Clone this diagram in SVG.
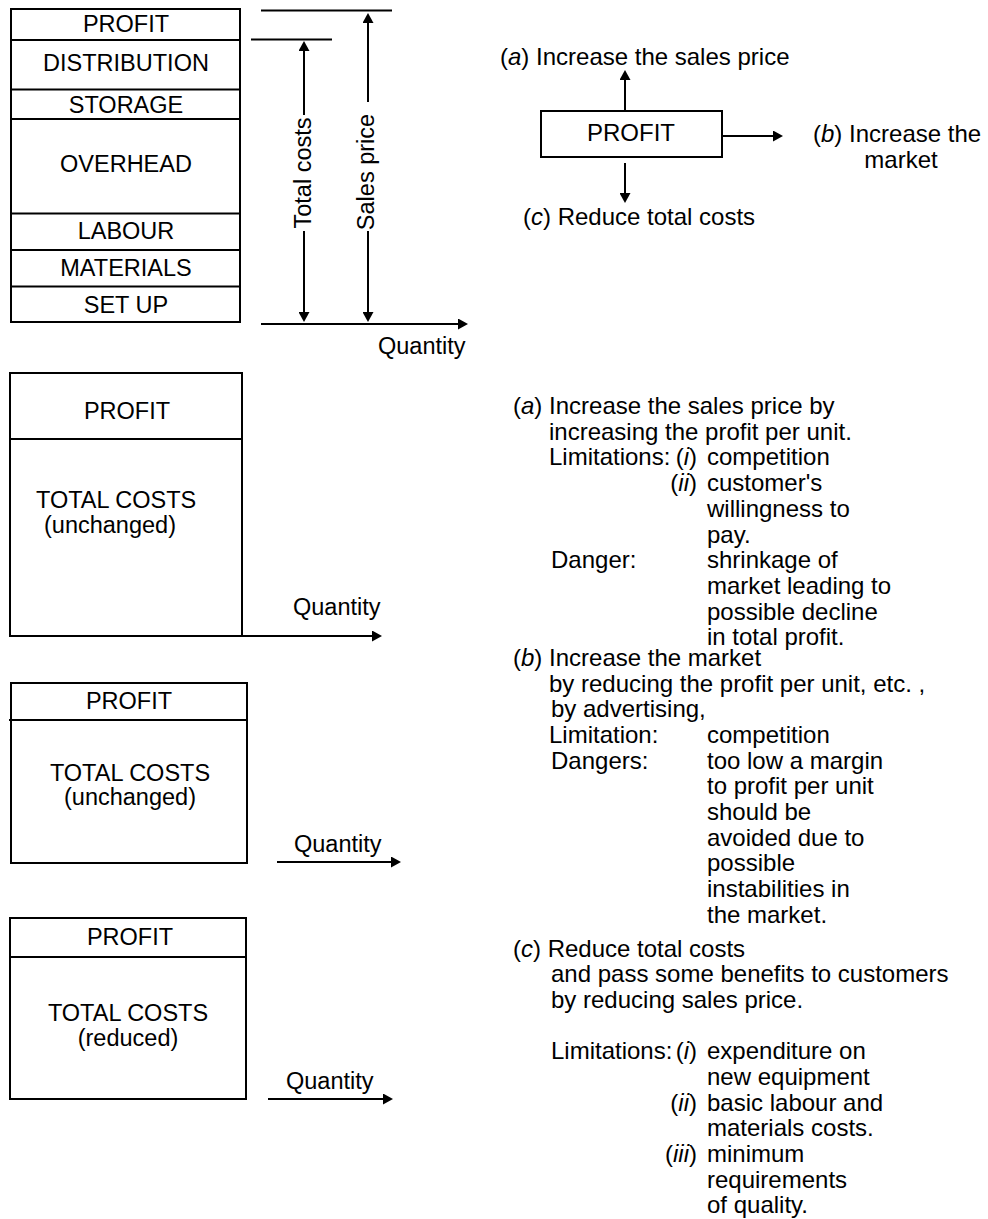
<svg xmlns="http://www.w3.org/2000/svg" width="988" height="1219" viewBox="0 0 988 1219">
<style>
text{font-family:"Liberation Sans",Arial,Helvetica,sans-serif;font-size:24px;fill:#000}
.s{font-size:23.5px}
.m{text-anchor:middle}
.e{text-anchor:end}
.i{font-style:italic}
.box{fill:none;stroke:#000;stroke-width:2}
.ln{fill:none;stroke:#000;stroke-width:2}
</style>
<defs>
<marker id="ah" viewBox="0 0 10 11" refX="7" refY="5.5" markerWidth="10" markerHeight="11" markerUnits="userSpaceOnUse" orient="auto-start-reverse">
<path d="M0,0 L10,5.5 L0,11 z" fill="#000"/>
</marker>
</defs>
<rect width="988" height="1219" fill="#fff"/>

<g id="cost-stack">
<rect class="box" x="11" y="9" width="229" height="313"/>
<line class="ln" x1="11" y1="40" x2="240" y2="40"/>
<line class="ln" x1="11" y1="89.5" x2="240" y2="89.5"/>
<line class="ln" x1="11" y1="119" x2="240" y2="119"/>
<line class="ln" x1="11" y1="213.5" x2="240" y2="213.5"/>
<line class="ln" x1="11" y1="250" x2="240" y2="250"/>
<line class="ln" x1="11" y1="286.5" x2="240" y2="286.5"/>
<text class="m s" x="126" y="31.5">PROFIT</text>
<text class="m s" x="126" y="71">DISTRIBUTION</text>
<text class="m s" x="126" y="113">STORAGE</text>
<text class="m s" x="126" y="172">OVERHEAD</text>
<text class="m s" x="126" y="239">LABOUR</text>
<text class="m s" x="126" y="276">MATERIALS</text>
<text class="m s" x="126" y="313">SET UP</text>
</g>

<g id="connectors">
<line class="ln" x1="261" y1="10.5" x2="392" y2="10.5"/>
<line class="ln" x1="251" y1="39.5" x2="332" y2="39.5"/>
<line class="ln" x1="304" y1="44" x2="304" y2="115" marker-start="url(#ah)"/>
<line class="ln" x1="304" y1="231" x2="304" y2="319" marker-end="url(#ah)"/>
<line class="ln" x1="368" y1="16" x2="368" y2="102" marker-start="url(#ah)"/>
<line class="ln" x1="368" y1="231" x2="368" y2="319" marker-end="url(#ah)"/>
<line class="ln" x1="261" y1="324" x2="465" y2="324" marker-end="url(#ah)"/>
<line class="ln" x1="625" y1="110" x2="625" y2="73" marker-end="url(#ah)"/>
<line class="ln" x1="625" y1="163" x2="625" y2="200" marker-end="url(#ah)"/>
<line class="ln" x1="722" y1="136" x2="780" y2="136" marker-end="url(#ah)"/>
<line class="ln" x1="242" y1="636" x2="379" y2="636" marker-end="url(#ah)"/>
<line class="ln" x1="277" y1="862" x2="398" y2="862" marker-end="url(#ah)"/>
<line class="ln" x1="268" y1="1099" x2="390" y2="1099" marker-end="url(#ah)"/>
</g>

<g id="axis-labels">
<text class="m s" transform="translate(311,173) rotate(-90)">Total costs</text>
<text class="m s" transform="translate(374,172) rotate(-90)">Sales price</text>
<text class="s" x="378" y="354">Quantity</text>
</g>

<g id="profit-options">
<rect class="box" x="541" y="111" width="181" height="46"/>
<text class="m" x="631" y="141">PROFIT</text>
<text x="500" y="65">(<tspan class="i">a</tspan>) Increase the sales price</text>
<text x="813" y="142">(<tspan class="i">b</tspan>) Increase the</text>
<text class="m" x="901" y="168">market</text>
<text x="523" y="225">(<tspan class="i">c</tspan>) Reduce total costs</text>
</g>

<g id="case-a">
<rect class="box" x="10" y="373" width="232" height="263"/>
<line class="ln" x1="10" y1="439" x2="242" y2="439"/>
<text class="m s" x="127" y="419">PROFIT</text>
<text class="s" x="36" y="508">TOTAL COSTS</text>
<text class="s" x="44" y="533">(unchanged)</text>
<text class="s" x="293" y="615">Quantity</text>
</g>

<g id="case-b">
<rect class="box" x="11" y="683" width="236" height="180"/>
<line class="ln" x1="9" y1="720" x2="248" y2="720"/>
<text class="m s" x="129" y="709">PROFIT</text>
<text class="m s" x="130" y="781">TOTAL COSTS</text>
<text class="m s" x="130" y="805">(unchanged)</text>
<text class="s" x="294" y="852">Quantity</text>
</g>

<g id="case-c">
<rect class="box" x="10" y="918" width="236" height="181"/>
<line class="ln" x1="10" y1="957" x2="246" y2="957"/>
<text class="m s" x="130" y="945">PROFIT</text>
<text class="m s" x="128" y="1021">TOTAL COSTS</text>
<text class="m s" x="128" y="1046">(reduced)</text>
<text class="s" x="286" y="1089">Quantity</text>
</g>

<g id="notes-a">
<text x="513" y="414">(<tspan class="i">a</tspan>) Increase the sales price by</text>
<text x="549" y="439.7">increasing the profit per unit.</text>
<text x="549" y="465.4">Limitations:</text>
<text class="e" x="697" y="465.4">(<tspan class="i">i</tspan>)</text>
<text x="707" y="465.4">competition</text>
<text class="e" x="697" y="491.1">(<tspan class="i">ii</tspan>)</text>
<text x="707" y="491.1">customer's</text>
<text x="707" y="516.8">willingness to</text>
<text x="707" y="542.5">pay.</text>
<text x="551" y="568.2">Danger:</text>
<text x="707" y="568.2">shrinkage of</text>
<text x="707" y="593.9">market leading to</text>
<text x="707" y="619.6">possible decline</text>
<text x="707" y="645.3">in total profit.</text>
</g>

<g id="notes-b">
<text x="513" y="666">(<tspan class="i">b</tspan>) Increase the market</text>
<text x="549" y="691.7">by reducing the profit per unit, etc. ,</text>
<text x="551" y="717.3">by advertising,</text>
<text x="549" y="743">Limitation:</text>
<text x="707" y="743">competition</text>
<text x="551" y="768.6">Dangers:</text>
<text x="707" y="768.6">too low a margin</text>
<text x="707" y="794.3">to profit per unit</text>
<text x="707" y="820">should be</text>
<text x="707" y="845.6">avoided due to</text>
<text x="707" y="871.3">possible</text>
<text x="707" y="897">instabilities in</text>
<text x="707" y="922.7">the market.</text>
</g>

<g id="notes-c">
<text x="513" y="956.7">(<tspan class="i">c</tspan>) Reduce total costs</text>
<text x="551" y="982.3">and pass some benefits to customers</text>
<text x="551" y="1008">by reducing sales price.</text>
<text x="551" y="1059.4">Limitations:</text>
<text class="e" x="697" y="1059.4">(<tspan class="i">i</tspan>)</text>
<text x="707" y="1059.4">expenditure on</text>
<text x="707" y="1085">new equipment</text>
<text class="e" x="697" y="1110.7">(<tspan class="i">ii</tspan>)</text>
<text x="707" y="1110.7">basic labour and</text>
<text x="707" y="1136.4">materials costs.</text>
<text class="e" x="697" y="1162">(<tspan class="i">iii</tspan>)</text>
<text x="707" y="1162">minimum</text>
<text x="707" y="1187.7">requirements</text>
<text x="707" y="1213.4">of quality.</text>
</g>
</svg>
